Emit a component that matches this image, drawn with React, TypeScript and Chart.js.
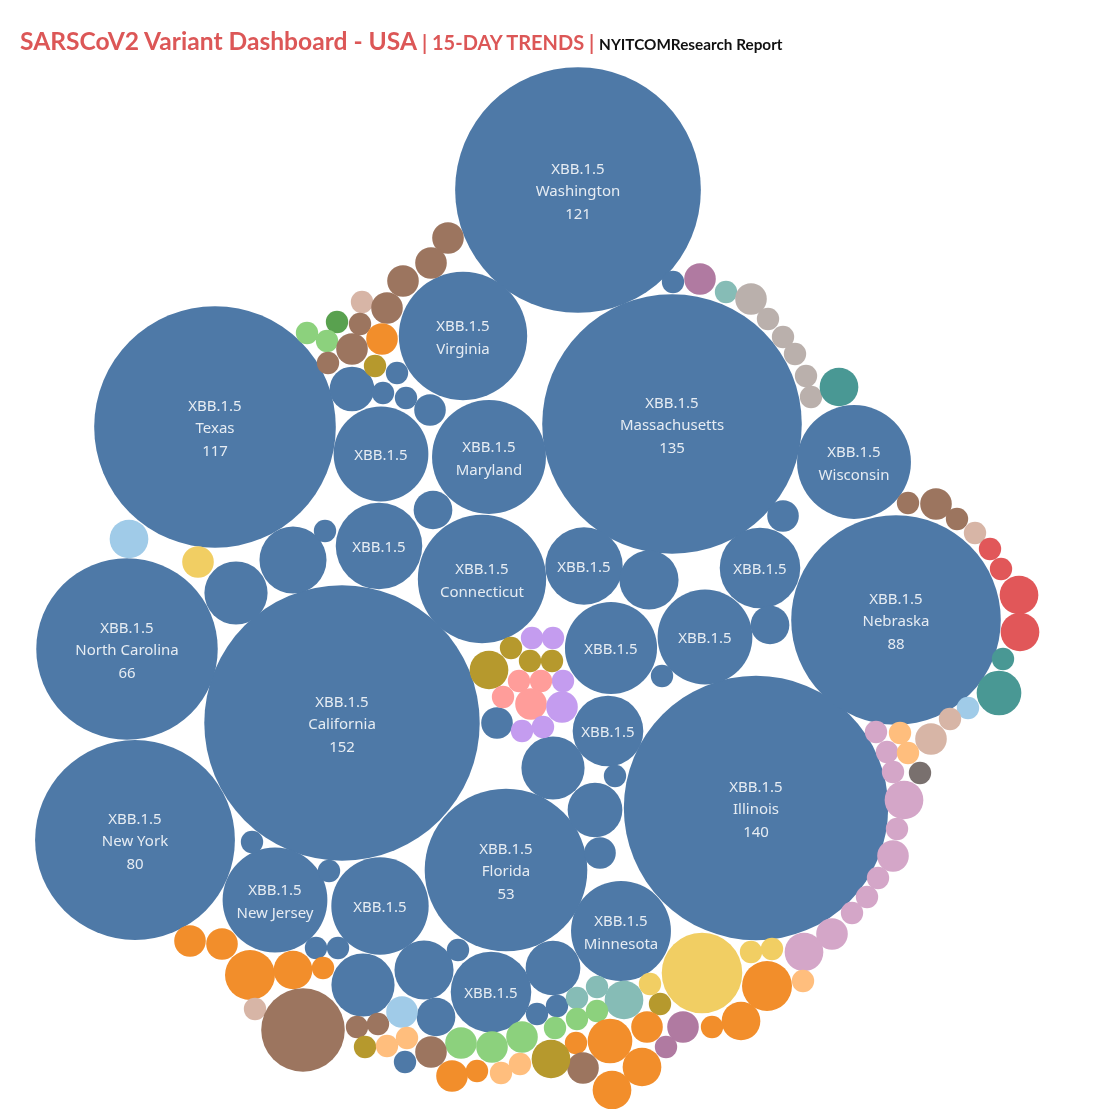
import React, { useEffect, useRef } from 'react';
import { Chart, registerables } from 'chart.js';

Chart.register(...registerables);

// ---------- DATA ----------
// XBB.1.5 bubbles (state-level 15-day counts)
const xbbStates = [
  'Washington', 'Massachusetts', 'Texas', 'California', 'Illinois', 'Nebraska',
  'New York', 'North Carolina', 'Florida', 'Virginia', 'Maryland', 'Wisconsin',
  'Connecticut', 'New Jersey', 'Minnesota',
  '', '', '', '', '', '', '', '', '',
  '', '', '', '', '', '', '', '', '', '', '', '', '', '', '', '', '', '', '', '', '', '', '', '', '', '', '', '', '', '', '',
];
const xbbX = [
  578, 672, 215, 342, 756, 896, 135, 127, 506, 463, 489, 854, 482, 275, 621,
  381, 379, 584, 760, 611, 705, 608, 380, 491,
  649, 433, 293, 236, 325, 352, 383, 397, 406, 430, 673, 783, 770, 662, 497, 553,
  615, 595, 600, 252, 329, 316, 338, 363, 424, 458, 553, 436, 537, 557, 405,
];
const xbbY = [
  190, 424, 427, 723, 808, 620, 840, 649, 870, 336, 457, 462, 579, 900, 931,
  454, 546, 566, 568, 648, 637, 731, 906, 992,
  580, 510, 560, 593, 531, 389, 393, 373, 398, 410, 282, 516, 625, 676, 723, 768,
  776, 810, 853, 842, 871, 948, 948, 985, 970, 950, 968, 1017, 1014, 1006, 1062,
];
const xbbValues = [
  121, 135, 117, 152, 140, 88, 80, 66, 53, 33, 26, 26, 33, 22, 20,
  18, 15, 12, 13, 17, 18, 10, 19, 13,
  7, 3, 9, 8, 1, 4, 1, 1, 1, 2, 1, 2, 3, 1, 2, 8,
  1, 6, 2, 1, 1, 1, 1, 8, 7, 1, 6, 3, 1, 1, 1,
];
// 3 = variant+state+count, 2 = variant+state, 1 = variant, 0 = none
const xbbLabelLevel = [
  3, 3, 3, 3, 3, 3, 3, 3, 3, 2, 2, 2, 2, 2, 2,
  1, 1, 1, 1, 1, 1, 1, 1, 1,
  0, 0, 0, 0, 0, 0, 0, 0, 0, 0, 0, 0, 0, 0, 0, 0,
  0, 0, 0, 0, 0, 0, 0, 0, 0, 0, 0, 0, 0, 0, 0,
];
const xbbName = 'XBB.1.5';

// Other lineages (group index -> palette)
const otherGroups = [
  0, 0, 0, 1, 0, 2, 3, 3, 0, 4, 0, 0, 5,
  6, 7, 8, 8, 8, 8, 8, 8, 9,
  0, 0, 0, 1, 10, 10, 10, 10, 9, 9, 11, 1, 1, 13, 12, 13, 12, 13, 14, 13, 13, 13, 13, 13, 13, 13, 13,
  12, 15, 15, 15, 4, 4, 4, 6, 6, 5, 15, 4, 4, 4, 7, 7, 7, 3, 3, 3, 4, 4, 0, 5, 3, 3, 3, 12, 12, 4, 4, 0,
  4, 4, 4, 4, 4, 1, 0, 0, 0, 11, 5, 12, 12,
  16, 16, 5, 5, 5, 5, 16, 17, 17, 17, 17, 16, 16, 16,
  11, 15,
];
const otherX = [
  448, 431, 403, 362, 387, 337, 307, 327, 360, 382, 352, 328, 375,
  700, 726, 751, 768, 783, 795, 806, 811, 839,
  908, 936, 957, 975, 990, 1001, 1019, 1020, 1003, 999, 968, 950, 931, 876, 900, 887, 908, 893, 920, 904, 897, 893, 878, 867, 852, 832, 804,
  803, 772, 751, 702, 767, 741, 712, 683, 666, 660, 650, 647, 642, 612, 624, 597, 577, 597, 577, 555, 576, 610, 583, 551, 522, 492, 461, 520, 501, 477, 452, 431,
  190, 222, 250, 293, 323, 255, 303, 357, 378, 402, 365, 387, 407,
  532, 553, 511, 489, 530, 552, 563, 519, 541, 503, 531, 562, 522, 543,
  129, 198,
];
const otherY = [
  238, 263, 281, 302, 308, 322, 333, 341, 324, 339, 349, 363, 366,
  279, 292, 299, 319, 337, 354, 376, 397, 387,
  503, 504, 519, 533, 549, 569, 595, 632, 659, 693, 708, 719, 739, 732, 733, 752, 753, 772, 773, 800, 829, 856, 878, 897, 913, 934, 952,
  981, 949, 952, 973, 986, 1021, 1027, 1027, 1047, 1004, 984, 1027, 1067, 1090, 1000, 987, 998, 1011, 1019, 1028, 1043, 1041, 1068, 1059, 1037, 1047, 1043, 1064, 1073, 1071, 1076, 1052,
  941, 944, 975, 970, 968, 1009, 1030, 1027, 1024, 1012, 1047, 1046, 1038,
  638, 638, 648, 670, 661, 661, 681, 681, 681, 697, 704, 707, 731, 727,
  539, 562,
];
const otherValues = [
  2, 2, 2, 1, 2, 1, 1, 1, 1, 2, 2, 1, 1,
  2, 1, 2, 1, 1, 1, 1, 1, 3,
  1, 2, 1, 1, 1, 1, 3, 3, 1, 4, 1, 1, 2, 1, 1, 1, 1, 1, 1, 3, 1, 2, 1, 1, 1, 2, 3,
  1, 1, 1, 13, 5, 3, 1, 2, 1, 1, 1, 2, 3, 3, 3, 1, 1, 1, 1, 1, 1, 4, 2, 3, 2, 2, 2, 1, 1, 1, 2, 2,
  2, 2, 5, 3, 1, 1, 14, 1, 1, 2, 1, 1, 1,
  1, 1, 1, 3, 1, 1, 1, 1, 1, 1, 2, 2, 1, 1,
  3, 2,
];

// ---------- STYLE ----------
const XBB_COLOR = '#4e79a7';
const groupColors = [
  '#9c755f', '#d7b5a6', '#59a14f', '#8cd17d', '#f28e2b', '#b6992d', '#b07aa1', '#86bcb6', '#bab0ac',
  '#499894', '#e15759', '#a0cbe8', '#ffbe7d', '#d4a6c8', '#79706e', '#f1ce63', '#c49cef', '#ff9d9a',
];
const RADIUS_PER_SQRT = 11.17;
const W = 1105;
const H = 1109;

const labelPlugin = {
  id: 'bubbleLabels',
  afterDatasetsDraw(chart: any) {
    const { ctx, scales } = chart;
    ctx.save();
    ctx.fillStyle = 'rgba(255,255,255,0.86)';
    ctx.font = '15px "Noto Sans", sans-serif';
    ctx.textAlign = 'center';
    ctx.textBaseline = 'middle';
    const lh = 22.5;
    xbbLabelLevel.forEach((lvl, i) => {
      if (!lvl) return;
      const lines = [xbbName];
      if (lvl >= 2) lines.push(xbbStates[i]);
      if (lvl >= 3) lines.push(String(xbbValues[i]));
      const px = scales.x.getPixelForValue(xbbX[i]);
      const py = scales.y.getPixelForValue(xbbY[i]) + 2;
      const top = py - ((lines.length - 1) * lh) / 2;
      lines.forEach((t, k) => ctx.fillText(t, px, top + k * lh));
    });
    ctx.restore();
  },
};

export default function App() {
  const ref = useRef<HTMLCanvasElement | null>(null);
  useEffect(() => {
    if (!ref.current) return;
    const rOf = (v: number) => RADIUS_PER_SQRT * Math.sqrt(v);
    const chart = new Chart(ref.current, {
      type: 'bubble',
      data: {
        datasets: [
          {
            label: 'Other lineages',
            data: otherX.map((x, i) => ({ x, y: otherY[i], r: rOf(otherValues[i]) })),
            backgroundColor: otherGroups.map((g) => groupColors[g]),
            borderWidth: 0,
            clip: false as any,
          },
          {
            label: xbbName,
            data: xbbX.map((x, i) => ({ x, y: xbbY[i], r: rOf(xbbValues[i]) })),
            backgroundColor: XBB_COLOR,
            borderWidth: 0,
            clip: false as any,
          },
        ],
      },
      options: {
        animation: false,
        responsive: false,
        events: [],
        layout: { padding: 0, autoPadding: false } as any,
        plugins: { legend: { display: false }, tooltip: { enabled: false } },
        scales: {
          x: { type: 'linear', min: 0, max: W, display: false },
          y: { type: 'linear', min: 0, max: H, reverse: true, display: false },
        },
      },
      plugins: [labelPlugin],
    });
    return () => chart.destroy();
  }, []);

  return (
    <div style={{ position: 'fixed', left: 0, top: 0, width: W, height: H, background: '#fff' }}>
      <canvas ref={ref} width={W} height={H} style={{ position: 'absolute', left: 0, top: 0 }} />
      <div
        style={{
          position: 'absolute',
          left: 20,
          top: 26,
          fontFamily: 'Lato, sans-serif',
          fontWeight: 700,
          whiteSpace: 'nowrap',
          lineHeight: '30px',
        }}
      >
        <span style={{ color: '#dc5757', fontSize: 24.6 }}>SARSCoV2 Variant Dashboard - USA</span>
        <span style={{ color: '#dc5757', fontSize: 20 }}> | 15-DAY TRENDS | </span>
        <span style={{ color: '#111', fontSize: 15.3 }}>NYITCOMResearch Report</span>
      </div>
    </div>
  );
}
